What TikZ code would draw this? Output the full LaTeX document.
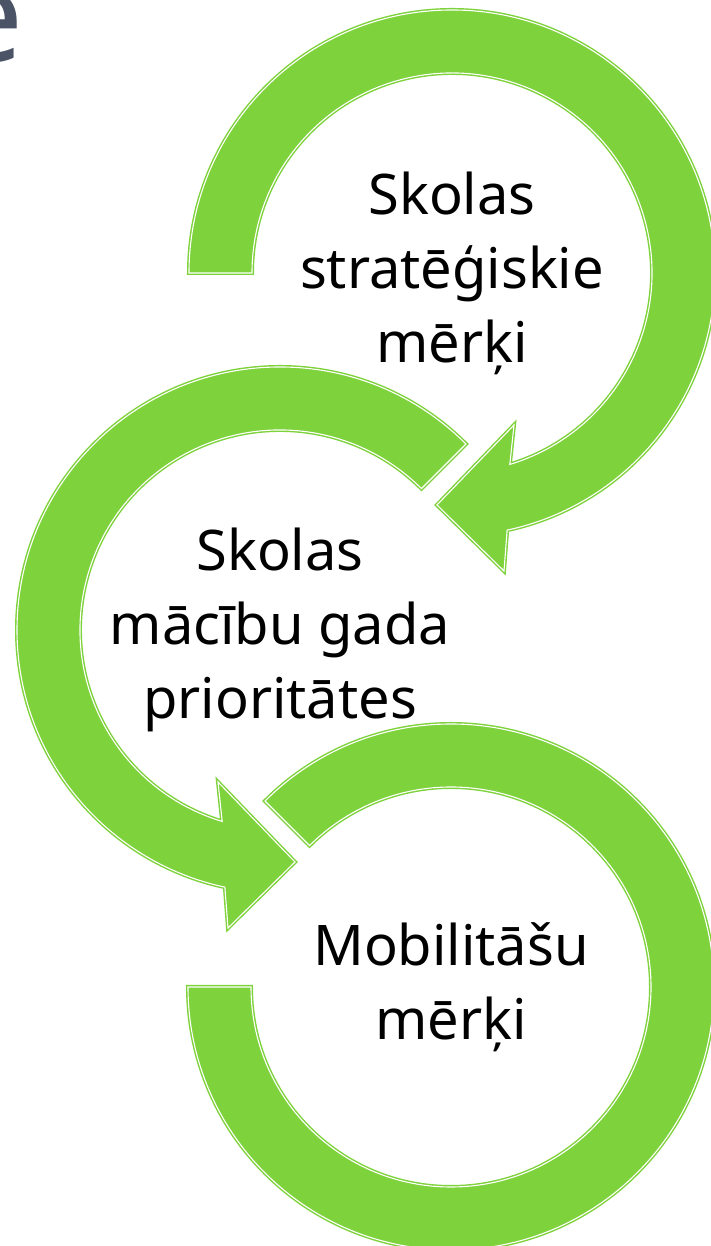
\documentclass[tikz,border=0pt]{standalone}
\usepackage{fontspec}
\setmainfont{Noto Sans}
\usetikzlibrary{calc}
\definecolor{arrowgreen}{HTML}{7ED23B}
\definecolor{titleslate}{HTML}{4A5466}
\begin{document}
\begin{tikzpicture}[x=1pt,y=1pt,
  ring/.style={fill=arrowgreen, draw=arrowgreen, line width=4pt, line join=miter,
    postaction={draw=white, line width=1.1pt, line join=miter}},
  ringtext/.style={font=\fontsize{56}{74}\selectfont, align=center, text=black, inner sep=0pt}]
\useasboundingbox (0,0) rectangle (711,1246);
\fill[white] (0,0) rectangle (711,1246);
\clip (0,0) rectangle (711,1246);

\coordinate (C1) at (452,973);
\coordinate (C2) at (280,616);
\coordinate (C3) at (451,259);

% title fragment
\node[font=\fontsize{130}{130}\selectfont\bfseries, text=titleslate, anchor=base east, inner sep=0pt] (title) at (24,1184) {e};

% circle 1 (clockwise, arrow at the bottom pointing left)
\path[ring] ($(C1)+(180:263)$) arc[start angle=180, end angle=-77.9, radius=263]
  -- ($(C1)+(52,-298)$) -- ($(C1)+(-15,-232)$) -- ($(C1)+(62,-152)$)
  -- ($(C1)+(-73.2:200)$) arc[start angle=-73.2, end angle=180, radius=200] -- cycle;

% circle 2 (counter-clockwise, arrow at the bottom pointing right)
\path[ring] ($(C2)+(45:263)$) arc[start angle=45, end angle=257.9, radius=263]
  -- ($(C2)+(-52,-298)$) -- ($(C2)+(15,-232)$) -- ($(C2)+(-62,-152)$)
  -- ($(C2)+(253.2:200)$) arc[start angle=253.2, end angle=45, radius=200] -- cycle;

% circle 3 (clockwise, plain end on the left)
\path[ring] ($(C3)+(135:263)$) arc[start angle=135, end angle=-180, radius=263]
  -- ($(C3)+(180:200)$) arc[start angle=-180, end angle=135, radius=200] -- cycle;

\node[ringtext] (t1) at (C1) {Skolas\\stratēģiskie\\mērķi};
\node[ringtext] (t2) at (C2) {Skolas\\mācību gada\\prioritātes};
\node[ringtext] (t3) at (C3) {Mobilitāšu\\mērķi};
\end{tikzpicture}
\end{document}
